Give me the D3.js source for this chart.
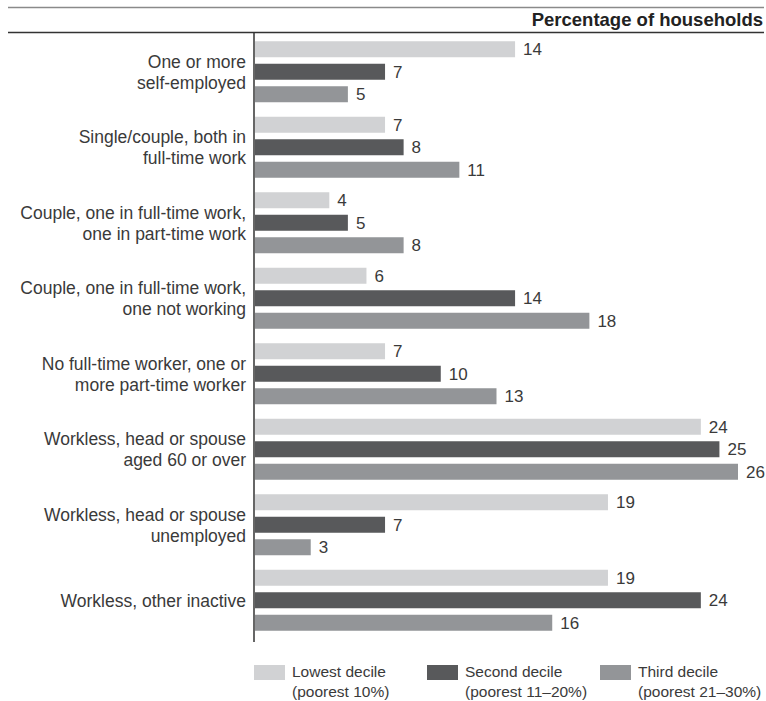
<!DOCTYPE html>
<html>
<head>
<meta charset="utf-8">
<script src="https://cdn.jsdelivr.net/npm/d3@7"></script>
<style>
  html, body { margin: 0; padding: 0; background: #fff; }
  svg { display: block; }
  text { font-family: "Liberation Sans", Arial, Helvetica, sans-serif; fill: #3a3a3a; }
</style>
</head>
<body>
<svg id="chart" width="766" height="701"></svg>
<script>
// Household work status, by income decile
const categories = [
  ["One or more", "self-employed"],
  ["Single/couple, both in", "full-time work"],
  ["Couple, one in full-time work,", "one in part-time work"],
  ["Couple, one in full-time work,", "one not working"],
  ["No full-time worker, one or", "more part-time worker"],
  ["Workless, head or spouse", "aged 60 or over"],
  ["Workless, head or spouse", "unemployed"],
  ["Workless, other inactive"]
];
const seriesNames = ["lowest", "second", "third"];
const lowest = [14, 7, 4, 6, 7, 24, 19, 19];
const second = [7, 8, 5, 14, 10, 25, 7, 24];
const third  = [5, 11, 8, 18, 13, 26, 3, 16];
const legendLabels = [
  ["Lowest decile", "(poorest 10%)"],
  ["Second decile", "(poorest 11\u201320%)"],
  ["Third decile", "(poorest 21\u201330%)"]
];
const title = "Percentage of households";

const colors = { lowest: "#d1d2d4", second: "#58595b", third: "#939598" };
const values = { lowest, second, third };

const svg = d3.select("#chart");

// header rules and title
svg.append("line").attr("x1", 8).attr("x2", 764).attr("y1", 7.5).attr("y2", 7.5)
  .attr("stroke", "#8a8a8a").attr("stroke-width", 1.5);
svg.append("line").attr("x1", 8).attr("x2", 764).attr("y1", 32.5).attr("y2", 32.5)
  .attr("stroke", "#333").attr("stroke-width", 1.5);
svg.append("text").attr("x", 763).attr("y", 26).attr("text-anchor", "end")
  .style("font-weight", "bold").style("font-size", "18.5px").style("fill", "#222")
  .text(title);

// scales
const x = d3.scaleLinear().domain([0, 26]).range([255, 738]);
const yGroup = d3.scaleBand().domain(d3.range(categories.length)).range([34, 638]).padding(0);
const yInner = d3.scaleBand().domain(seriesNames).range([-30.5, 30.5]).paddingInner(0.289).paddingOuter(0);

const groups = svg.selectAll("g.group").data(categories).join("g")
  .attr("class", "group")
  .attr("transform", (d, i) => `translate(0,${yGroup(i) + yGroup.bandwidth() / 2})`);

// bars and value labels
groups.each(function (cat, i) {
  const g = d3.select(this);
  seriesNames.forEach(s => {
    const v = values[s][i];
    g.append("rect")
      .attr("x", x(0))
      .attr("y", yInner(s))
      .attr("width", x(v) - x(0))
      .attr("height", yInner.bandwidth())
      .attr("fill", colors[s]);
    g.append("text")
      .attr("x", x(v) + 8)
      .attr("y", yInner(s) + yInner.bandwidth() / 2)
      .attr("dy", "0.36em")
      .style("font-size", "17px")
      .text(v);
  });
  // category label, one or two lines, centred on the group
  const lh = 21;
  const n = cat.length;
  const t = g.append("text").attr("text-anchor", "end").style("font-size", "17.5px");
  cat.forEach((line, k) => {
    t.append("tspan")
      .attr("x", 246)
      .attr("y", (k - (n - 1) / 2) * lh)
      .attr("dy", "0.36em")
      .text(line);
  });
});

// vertical axis line
svg.append("line").attr("x1", 254).attr("x2", 254).attr("y1", 33).attr("y2", 642)
  .attr("stroke", "#333").attr("stroke-width", 1.5);

// legend
const legendX = [254, 427, 600];
const legend = svg.selectAll("g.legend").data(seriesNames).join("g")
  .attr("class", "legend")
  .attr("transform", (d, i) => `translate(${legendX[i]},665)`);
legend.append("rect").attr("width", 31).attr("height", 15).attr("fill", d => colors[d]);
legend.each(function (d, i) {
  const t = d3.select(this).append("text").style("font-size", "15.5px");
  legendLabels[i].forEach((line, k) => {
    t.append("tspan").attr("x", 38).attr("y", 12 + k * 20).text(line);
  });
});
</script>
</body>
</html>
